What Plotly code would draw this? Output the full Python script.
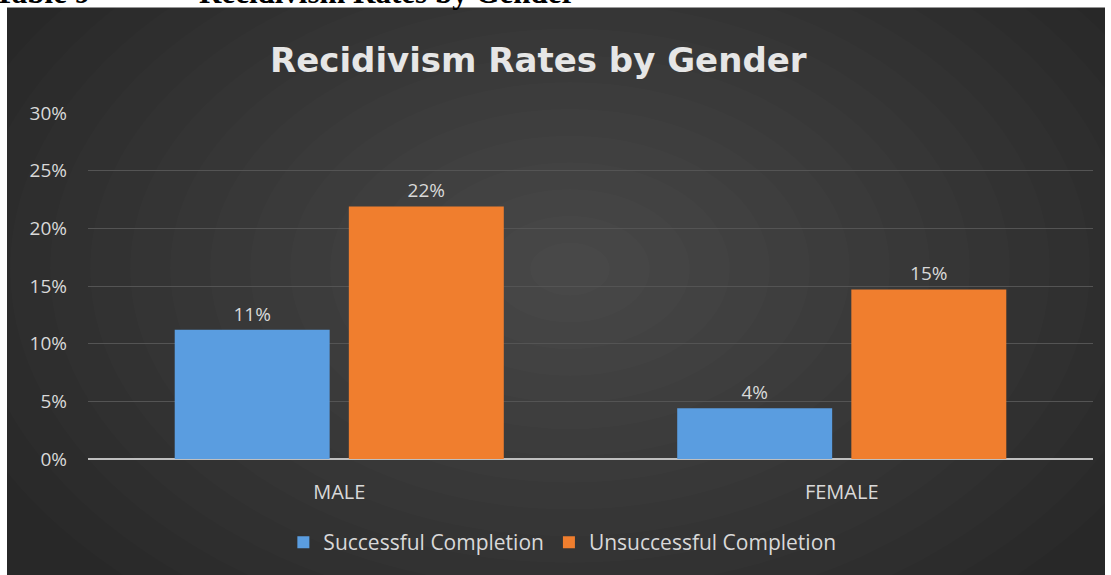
import plotly.graph_objects as go

categories = ["MALE", "FEMALE"]
successful = [11.2, 4.4]
unsuccessful = [21.9, 14.7]
successful_labels = ["11%", "4%"]
unsuccessful_labels = ["22%", "15%"]
tick_vals = [0, 5, 10, 15, 20, 25, 30]
tick_text = ["0%", "5%", "10%", "15%", "20%", "25%", "30%"]

W, H = 1111, 575
L, R, T, B = 88, 18, 113, 114
PW = W - L - R
PH = H - T - B

def px_x(px):
    return (px - L) / PW

def px_y(py):
    return (H - B - py) / PH

FONT = "Open Sans"
TXT = "#d9d9d9"

fig = go.Figure()
fig.add_trace(go.Bar(
    name="Successful Completion", x=categories, y=successful,
    text=successful_labels, textposition="outside",
    textfont=dict(family=FONT, size=19, color=TXT),
    marker=dict(color="#5a9de0", line=dict(width=0)),
    cliponaxis=False,
))
fig.add_trace(go.Bar(
    name="Unsuccessful Completion", x=categories, y=unsuccessful,
    text=unsuccessful_labels, textposition="outside",
    textfont=dict(family=FONT, size=19, color=TXT),
    marker=dict(color="#f07e2e", line=dict(width=0)),
    cliponaxis=False,
))

shapes = [dict(type="rect", xref="paper", yref="paper", layer="below",
               x0=px_x(7), x1=px_x(1105), y0=px_y(578), y1=px_y(7),
               fillcolor="#282828", line=dict(width=0))]
# soft radial lightening towards the centre
cx, cy = 570, 270
n = 16
for i in range(n):
    f = 1 - i / n
    rx, ry = 640 * f, 430 * f
    shapes.append(dict(type="circle", xref="paper", yref="paper", layer="below",
                       x0=px_x(cx - rx), x1=px_x(cx + rx),
                       y0=px_y(cy + ry), y1=px_y(cy - ry),
                       fillcolor="rgba(255,255,255,0.012)", line=dict(width=0)))

fig.update_layout(
    width=W, height=H,
    margin=dict(l=L, r=R, t=T, b=B, pad=0),
    paper_bgcolor="white",
    plot_bgcolor="rgba(0,0,0,0)",
    barmode="group", bargap=0.307, bargroupgap=0.11,
    shapes=shapes,
    showlegend=True,
    legend=dict(orientation="h", x=0.472, xanchor="center", y=px_y(545), yanchor="middle",
                font=dict(family=FONT, size=21, color=TXT), bgcolor="rgba(0,0,0,0)",
                itemwidth=30, traceorder="normal"),
    xaxis=dict(showgrid=False, showline=False, ticks="", zeroline=False,
               ticklabelstandoff=19,
               tickfont=dict(family=FONT, size=20, color=TXT)),
    yaxis=dict(range=[0, 30], tickvals=tick_vals, ticktext=tick_text,
               showgrid=True, gridcolor="#545454", gridwidth=1,
               zeroline=True, zerolinecolor="#bfbfbf", zerolinewidth=2,
               showline=False, ticks="", ticklabelstandoff=20,
               tickfont=dict(family=FONT, size=19, color=TXT)),
    annotations=[
        dict(text="<b>Recidivism Rates by Gender</b>", xref="paper", yref="paper",
             x=px_x(538), y=px_y(60), xanchor="center", yanchor="middle", showarrow=False,
             font=dict(family="DejaVu Sans", size=34, color="#e6e6e6")),
        dict(text="<b>Table 9</b>", xref="paper", yref="paper",
             x=px_x(-8), y=px_y(11), xanchor="left", yanchor="bottom", showarrow=False,
             font=dict(family="Liberation Serif", size=31, color="black")),
        dict(text="<b>Recidivism Rates by Gender</b>", xref="paper", yref="paper",
             x=px_x(197), y=px_y(11), xanchor="left", yanchor="bottom", showarrow=False,
             font=dict(family="Liberation Serif", size=31, color="black")),
    ],
)

fig.write_html("out.html", config={"displayModeBar": False},
               post_script="document.body.style.margin='0';")
